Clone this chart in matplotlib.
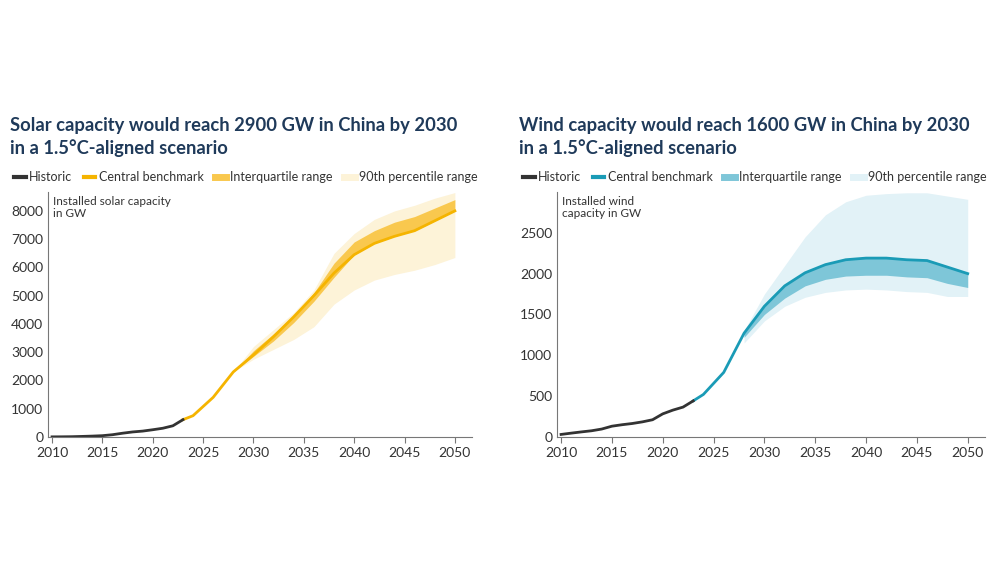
import numpy as np
import matplotlib
matplotlib.use('Agg')
import matplotlib.pyplot as plt
from matplotlib.lines import Line2D

plt.rcParams['font.family'] = ['Lato', 'DejaVu Sans']

hist_years = list(range(2010, 2024))
solar_hist = [1, 3, 7, 17, 28, 43, 77, 130, 175, 205, 253, 306, 393, 609]
wind_hist = [30, 46, 61, 75, 96, 131, 149, 164, 184, 210, 282, 328, 365, 441]

cent_years = [2023, 2024, 2026, 2028, 2030, 2032, 2034, 2036, 2038, 2040, 2042, 2044, 2046, 2048, 2050]
solar_central = [609, 750, 1400, 2300, 2900, 3550, 4250, 5000, 5800, 6450, 6850, 7100, 7300, 7650, 8000]
wind_central = [441, 520, 790, 1270, 1600, 1850, 2010, 2110, 2170, 2190, 2190, 2170, 2160, 2080, 2000]

band_years = [2028, 2030, 2032, 2034, 2036, 2038, 2040, 2042, 2044, 2046, 2048, 2050]
solar_iqr_lo = [2300, 2850, 3400, 4050, 4800, 5650, 6450, 6850, 7100, 7300, 7650, 8000]
solar_iqr_hi = [2300, 3050, 3650, 4300, 5100, 6150, 6900, 7300, 7600, 7800, 8100, 8400]
solar_p_lo = [2300, 2750, 3100, 3450, 3900, 4700, 5200, 5550, 5750, 5900, 6100, 6350]
solar_p_hi = [2300, 3200, 3800, 4400, 5200, 6500, 7200, 7700, 8000, 8200, 8450, 8650]

wind_iqr_lo = [1220, 1500, 1700, 1850, 1930, 1970, 1980, 1980, 1960, 1950, 1880, 1830]
wind_iqr_hi = [1270, 1600, 1850, 2010, 2110, 2170, 2190, 2190, 2170, 2160, 2080, 2000]
wind_p_lo = [1150, 1420, 1600, 1710, 1770, 1800, 1810, 1800, 1780, 1770, 1720, 1720]
wind_p_hi = [1300, 1750, 2100, 2450, 2720, 2880, 2960, 2980, 2990, 2990, 2950, 2910]

title_col = '#1f3a5a'
text_col = '#333333'
fig = plt.figure(figsize=(10, 5.63), dpi=100)

def panel(rect, title, ylab, hist, central, iqr_lo, iqr_hi, p_lo, p_hi, cols, ylim, yticks):
    c_main, c_iqr, c_p = cols
    ax = fig.add_axes(rect)
    ax.fill_between(band_years, p_lo, p_hi, color=c_p, lw=0)
    ax.fill_between(band_years, iqr_lo, iqr_hi, color=c_iqr, lw=0)
    ax.plot(cent_years, central, color=c_main, lw=2)
    ax.plot(hist_years, hist, color='#333333', lw=2)
    ax.set_xlim(2009.6, 2051.7)
    ax.set_ylim(*ylim)
    ax.set_xticks(range(2010, 2051, 5))
    ax.set_yticks(yticks)
    for s in ['top', 'right']:
        ax.spines[s].set_visible(False)
    for s in ['left', 'bottom']:
        ax.spines[s].set_color('#777777')
    ax.tick_params(colors=text_col, labelsize=10, length=4, color='#777777')
    ax.tick_params(axis='y', length=0)
    ax.text(0.012, 0.985, ylab, transform=ax.transAxes, va='top', fontsize=8.5, color=text_col)
    fig.text(rect[0] - 0.038, 0.722, title, fontsize=13.2, fontweight='bold', color=title_col,
             va='bottom', linespacing=1.35)
    handles = [Line2D([], [], color='#333333', lw=3),
               Line2D([], [], color=c_main, lw=3),
               Line2D([], [], color=c_iqr, lw=5),
               Line2D([], [], color=c_p, lw=5)]
    labels = ['Historic', 'Central benchmark', 'Interquartile range', '90th percentile range']
    fig.legend(handles, labels, loc='center left', bbox_to_anchor=(rect[0] - 0.045, 0.685), ncol=4,
               frameon=False, fontsize=9, handlelength=0.9, handletextpad=0.3, columnspacing=0.9,
               labelcolor=text_col)
    return ax

panel([0.048, 0.224, 0.424, 0.435],
      'Solar capacity would reach 2900 GW in China by 2030\nin a 1.5\u00b0C-aligned scenario',
      'Installed solar capacity\nin GW', solar_hist, solar_central,
      solar_iqr_lo, solar_iqr_hi, solar_p_lo, solar_p_hi,
      ('#f5b400', '#f9c84e', '#fdf3d8'), (0, 8670), range(0, 8001, 1000))

panel([0.557, 0.224, 0.428, 0.435],
      'Wind capacity would reach 1600 GW in China by 2030\nin a 1.5\u00b0C-aligned scenario',
      'Installed wind\ncapacity in GW', wind_hist, wind_central,
      wind_iqr_lo, wind_iqr_hi, wind_p_lo, wind_p_hi,
      ('#1a9bb6', '#7ec6d8', '#e2f2f7'), (0, 3000), range(0, 2501, 500))

fig.savefig('out.png', dpi=100)
